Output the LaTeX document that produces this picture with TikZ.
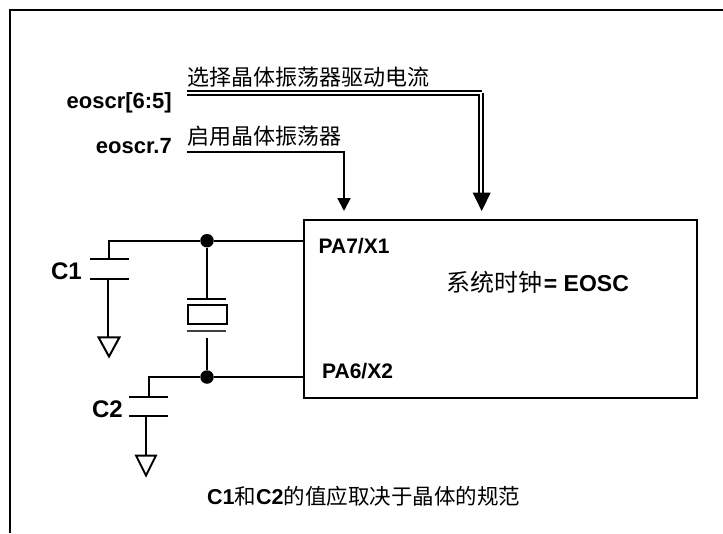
\documentclass[tikz,border=0pt]{standalone}
\usepackage{fontspec}
\setmainfont{Liberation Sans}
\newfontfamily\cjk{Noto Sans CJK SC}
\usetikzlibrary{arrows.meta}
\tikzset{
  x=1pt,y=-1pt,
  wire/.style={line width=2pt,black},
  thin wire/.style={line width=1.9pt,black},
  lab/.style={inner sep=0pt,font=\fontsize{22}{24}\selectfont\bfseries,anchor=base east},
  pin/.style={inner sep=0pt,font=\fontsize{21}{24}\selectfont\bfseries,anchor=base west},
  cn/.style={inner sep=0pt,font=\fontsize{22}{24}\selectfont\cjk,anchor=base west},
  dotn/.style={circle,fill=black,inner sep=0pt,minimum size=13.5pt},
  gnd/.style={line width=2pt,black,line join=miter},
}
\begin{document}
\begin{tikzpicture}
\useasboundingbox (0,0) rectangle (723,533);
\fill[white] (0,0) rectangle (723,533);
% frame
\coordinate (f1) at (10,533);
\coordinate (f2) at (10,10);
\coordinate (f3) at (723,10);
\draw[line width=2.2pt] (f1) -- (f2) -- (f3);
% chip
\node[draw,line width=2pt,minimum width=393pt,minimum height=178pt,inner sep=0pt,outer sep=0pt] (chip) at (500.5,309) {};
\node[pin] (pa7) at (318.5,253) {PA7/X1};
\node[pin] (pa6) at (322,378) {PA6/X2};
\node[inner sep=0pt,anchor=base west] (sys) at (446,291.5) {{\fontsize{24}{26}\selectfont\cjk 系统时钟}\,{\fontsize{23}{26}\selectfont\bfseries = EOSC}};
% labels
\node[lab] (sel) at (172,108) {eoscr[6:5]};
\node[lab] (en) at (172,153.5) {eoscr.7};
\node[cn] (t1) at (187,85.5) {选择晶体振荡器驱动电流};
\node[cn] (t2) at (187,144.5) {启用晶体振荡器};
% double arrow
\coordinate (d1) at (187,91.3);
\coordinate (d1b) at (187,95.3);
\coordinate (d2) at (481.5,91.3);
\coordinate (d2b) at (479.3,95.3);
\coordinate (d3) at (479.3,196);
\coordinate (d4) at (483.3,93);
\coordinate (d5) at (483.3,196);
\coordinate (tipa) at (481.7,211);
\draw[thin wire] (d1) -- (d2);
\draw[thin wire] (d1b) -- (d2b) -- (d3);
\draw[thin wire] (d4) -- (d5);
\fill (472.7,192.7) -- (490.7,192.7) -- (tipa) -- cycle;
% single arrow
\coordinate (s1) at (187,151.7);
\coordinate (s2) at (344,151.7);
\coordinate (s3) at (344,211);
\draw[wire,-{Triangle[length=13pt,width=13pt]}] (s1) -- (s2) -- (s3);
% nets
\node[dotn] (top) at (207,240.7) {};
\node[dotn] (bot) at (207,377) {};
\coordinate (c1a) at (109,240.7);
\coordinate (c1b) at (109,259);
\coordinate (c1c) at (108,279);
\coordinate (c1d) at (108,337);
\coordinate (c2a) at (149,377);
\coordinate (c2b) at (149,397);
\coordinate (c2c) at (145.7,416);
\coordinate (c2d) at (145.7,455);
\draw[wire] (chip.west |- top) -- (top) -- (c1a) -- (c1b);
\draw[wire] (chip.west |- bot) -- (bot) -- (c2a) -- (c2b);
\draw[wire] (c1c) -- (c1d);
\draw[wire] (c2c) -- (c2d);
% cap plates
\draw[wire] (90,259) -- (129,259);
\draw[wire] (90,279) -- (129,279);
\draw[wire] (129,397) -- (168,397);
\draw[wire] (129,415.7) -- (168,415.7);
% grounds
\draw[gnd] (98.5,337.3) -- (119.5,337.3) -- (109,356.5) -- cycle;
\draw[gnd] (136,455.5) -- (156,455.5) -- (146,475.5) -- cycle;
% crystal
\coordinate (x1) at (207,299);
\coordinate (x2) at (207,337.5);
\draw[wire] (top) -- (x1);
\draw[wire] (x2) -- (bot);
\draw[wire] (187,299) -- (226,299);
\draw[line width=1.6pt,black!75] (187,331) -- (226,331);
\draw[wire] (187.5,305) rectangle (226.5,324);
\node[lab,font=\fontsize{24}{26}\selectfont\bfseries] (c1) at (82,279) {C1};
\node[lab,font=\fontsize{24}{26}\selectfont\bfseries] (c2) at (123,417) {C2};
% caption
\node[inner sep=0pt,anchor=base west] (cap) at (207,504) {\fontsize{21.5}{24}\selectfont\bfseries C1{\cjk\mdseries 和}C2{\cjk\mdseries 的值应取决于晶体的规范}};
\end{tikzpicture}
\end{document}
